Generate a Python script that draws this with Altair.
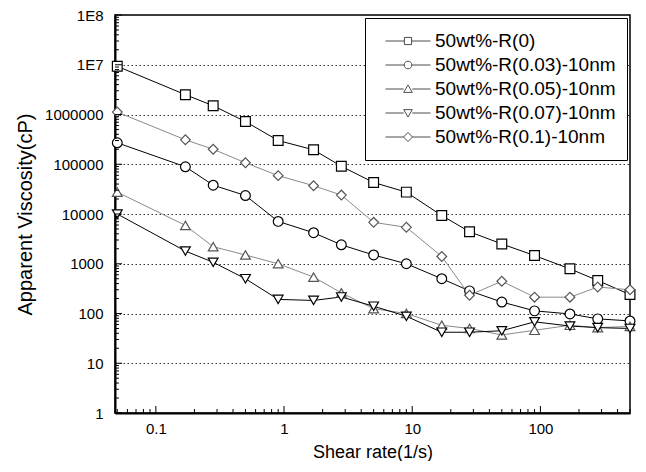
import altair as alt
import pandas as pd

# ---------------- data ----------------
shear_rate = [0.05, 0.17, 0.28, 0.5, 0.9, 1.7, 2.8, 5, 9, 17, 28, 50, 90, 170, 280, 500]

series_names = [
    "50wt%-R(0)",
    "50wt%-R(0.03)-10nm",
    "50wt%-R(0.05)-10nm",
    "50wt%-R(0.07)-10nm",
    "50wt%-R(0.1)-10nm",
]

visc_R0 = [9.3e6, 2.5e6, 1.5e6, 7.2e5, 3.0e5, 1.95e5, 9.1e4, 4.3e4, 2.75e4, 9.3e3, 4.4e3, 2.5e3, 1.46e3, 790, 460, 240]
visc_R003 = [2.7e5, 8.9e4, 3.8e4, 2.35e4, 7.1e3, 4.2e3, 2.4e3, 1.5e3, 1.0e3, 500, 285, 170, 113, 98, 78, 71]
visc_R005 = [2.75e4, 5.9e3, 2.2e3, 1.5e3, 1.0e3, 540, 260, 125, 100, 58, 50, 37, 46, 58, 52, 55]
visc_R007 = [1.0e4, 1.8e3, 1.07e3, 500, 192, 183, 215, 140, 88, 42, 42, 45, 68, 56, 52, 50]
visc_R01 = [1.12e6, 3.1e5, 2.0e5, 1.07e5, 5.9e4, 3.7e4, 2.4e4, 6.8e3, 5.4e3, 1.4e3, 233, 445, 213, 213, 340, 300]

all_series = [visc_R0, visc_R003, visc_R005, visc_R007, visc_R01]

rows = []
for name, vals in zip(series_names, all_series):
    for x, v in zip(shear_rate, vals):
        rows.append({"series": name, "shear": x, "visc": v})
df = pd.DataFrame(rows)

# axis tick positions
y_major = [1, 10, 100, 1000, 10000, 100000, 1000000, 10000000, 100000000]
y_minor = [m * 10 ** k for k in range(0, 8) for m in range(2, 10)]
x_major = [0.1, 1, 10, 100]
x_minor = [round(m * 10.0 ** k, 6) for k in range(-2, 3) for m in range(2, 10)
           if 0.05 <= m * 10.0 ** k <= 500]

# ---------------- style ----------------
FONT = "Liberation Sans"
line_colors = ["#000000", "#000000", "#8a8a8a", "#000000", "#8a8a8a"]
marker_strokes = ["#000000", "#000000", "#555555", "#000000", "#555555"]
marker_shapes = ["square", "circle", "triangle-up", "triangle-down", "diamond"]
legend_paths = [
    "M-1,0H-0.16M0.16,0H1M-0.16,-0.16H0.16V0.16H-0.16Z",
    "M-1,0H-0.17M0.17,0H1M-0.17,0A0.17,0.17 0 1,0 0.17,0A0.17,0.17 0 1,0 -0.17,0Z",
    "M-1,0H-0.19M0.19,0H1M0,-0.18L0.19,0.15L-0.19,0.15Z",
    "M-1,0H-0.19M0.19,0H1M0,0.18L0.19,-0.15L-0.19,-0.15Z",
    "M-1,0H-0.2M0.2,0H1M0,-0.2L0.2,0L0,0.2L-0.2,0Z",
]

xs = alt.Scale(type="log", domain=[0.048, 500], nice=False)
ys = alt.Scale(type="log", domain=[1, 1e8], nice=False)

base = alt.Chart(df)

lines = base.mark_line(strokeWidth=1).encode(
    x=alt.X("shear:Q", scale=xs, axis=alt.Axis(
        orient="bottom", values=x_major, format="~g", title="Shear rate(1/s)",
        grid=False, ticks=False, tickSize=0, labelPadding=8,
        domainWidth=2, domainColor="black", labelFontSize=15, titleFontSize=18,
        titleFontWeight="normal", titlePadding=7)),
    y=alt.Y("visc:Q", scale=ys, axis=alt.Axis(
        orient="left", values=y_major,
        labelExpr="datum.value >= 1e7 ? '1E' + round(log(datum.value)/LN10) : format(datum.value, 'd')",
        title="Apparent Viscosity(cP)", grid=True, gridDash=[1.5, 2.5], gridColor="#333333",
        gridWidth=1, ticks=False, tickSize=0, labelPadding=12, domainWidth=2, domainColor="black",
        labelFontSize=15, titleFontSize=20, titleFontWeight="normal", titlePadding=9)),
    color=alt.Color("series:N", scale=alt.Scale(domain=series_names, range=line_colors), legend=None),
    detail="series:N",
)

points = base.mark_point(filled=True, fill="white", size=95, strokeWidth=1.2, opacity=1).encode(
    x=alt.X("shear:Q", scale=xs, axis=None),
    y=alt.Y("visc:Q", scale=ys, axis=None),
    shape=alt.Shape("series:N", scale=alt.Scale(domain=series_names, range=marker_shapes), legend=None),
    stroke=alt.Stroke("series:N", scale=alt.Scale(domain=series_names, range=marker_strokes), legend=None),
)


def y_ticks(vals, size):
    return alt.Chart(pd.DataFrame({"tv": vals})).mark_rule(color="black", strokeWidth=1).encode(
        y=alt.Y("tv:Q", scale=ys, axis=None),
        x=alt.value(0), x2=alt.value(size),
    )


def x_ticks(vals, size):
    return alt.Chart(pd.DataFrame({"tv": vals})).mark_rule(color="black", strokeWidth=1).encode(
        x=alt.X("tv:Q", scale=xs, axis=None),
        y=alt.value(alt.ExprRef(expr="height")),
        y2=alt.value(alt.ExprRef(expr=f"height - {size}")),
    )


legend_layer = base.transform_filter("false").mark_point(filled=False, color="black").encode(
    shape=alt.Shape("series:N", scale=alt.Scale(domain=series_names, range=legend_paths),
                    legend=alt.Legend(
                        title=None, orient="none", legendX=250, legendY=3,
                        symbolSize=2025, clipHeight=24, symbolOffset=9, labelOffset=4,
                        padding=11, strokeColor="black", fillColor="white",
                        labelFontSize=19, labelFont=FONT, labelColor="black",
                        symbolStrokeColor="black", symbolStrokeWidth=1,
                        symbolFillColor="white", rowPadding=0, labelLimit=400)),
)

chart = alt.layer(
    lines, points,
    y_ticks(y_major, 7), y_ticks(y_minor, 4),
    x_ticks(x_major, 7), x_ticks(x_minor, 4),
    legend_layer,
).resolve_scale(
    shape="independent"
).resolve_axis(
    x="independent", y="independent"
).properties(
    width=630, height=453,
    autosize=alt.AutoSizeParams(type="fit", contains="padding"),
    padding={"left": 7, "top": 0, "right": 0, "bottom": 0},
    background="white",
).configure_view(
    stroke="black", strokeWidth=1.5
).configure_axis(
    labelFont=FONT, titleFont=FONT, labelColor="black", titleColor="black"
)

chart.save("out.html", embed_options={"renderer": "svg", "actions": False})
